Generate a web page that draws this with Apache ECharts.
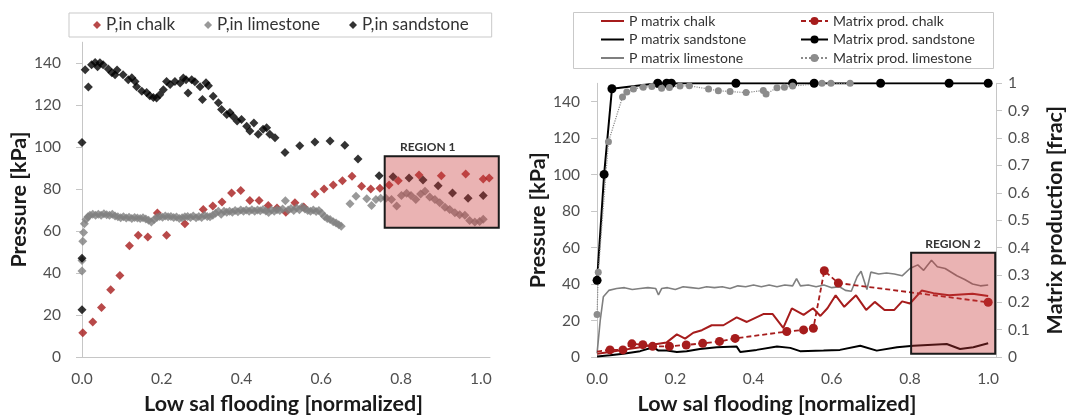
<!DOCTYPE html>
<html>
<head>
<meta charset="utf-8">
<script src="https://cdn.jsdelivr.net/npm/echarts@6/dist/echarts.min.js"></script>
<style>
html, body { margin: 0; padding: 0; background: #fff; }
#main { width: 1069px; height: 420px; }
</style>
</head>
<body>
<div id="main"></div>
<script>
// ---- Inlet pressure during low-salinity flooding (left panel), [x, kPa] ----
const pinChalk = [[0.002,11.5],[0.027,16.7],[0.049,23.6],[0.072,32],[0.095,38.8],[0.119,53],[0.141,58],[0.165,57.2],[0.189,68.6],[0.212,58],[0.258,63.5],[0.304,70.3],[0.328,71.9],[0.351,73.8],[0.375,78.2],[0.398,79.3],[0.421,74.6],[0.444,74.6],[0.467,72.2],[0.489,71],[0.511,69],[0.534,73.5],[0.556,71.5],[0.584,77.7],[0.607,80.1],[0.63,82],[0.653,84],[0.677,86.1],[0.701,81.4],[0.724,80.1],[0.747,80.4],[0.77,82],[0.793,84],[0.845,86.7],[0.901,86.4],[0.962,87.2],[1.006,84.8],[1.021,85.3]];

const pinLimestone = [[0,41],[0,46],[0.002,55.2],[0.004,59.3],[0.006,63.5],[0.01,65.5],[0.015,66.8],[0.02,67.5],[0.027,68],[0.034,67.5],[0.041,68],[0.048,67.6],[0.055,68.2],[0.062,67.8],[0.069,67.5],[0.076,68],[0.083,67.2],[0.09,66.8],[0.097,66.3],[0.104,66.8],[0.111,66.2],[0.118,66.6],[0.125,66],[0.132,66.5],[0.139,66.2],[0.146,66],[0.153,66.4],[0.16,65.8],[0.167,65.2],[0.174,64.3],[0.181,65.5],[0.188,66.5],[0.195,67],[0.202,66.6],[0.209,67.2],[0.216,66.8],[0.223,67],[0.23,66.5],[0.237,66.7],[0.244,66],[0.251,66.4],[0.258,66.8],[0.265,67],[0.272,66.5],[0.279,67.2],[0.286,66.4],[0.293,67],[0.3,66.5],[0.307,67.5],[0.314,67],[0.321,66.8],[0.328,67.5],[0.335,68.5],[0.342,69.5],[0.349,68],[0.356,69.5],[0.363,69],[0.37,69.5],[0.377,69],[0.384,69.8],[0.391,69.2],[0.398,70],[0.405,69.5],[0.412,70],[0.419,69.4],[0.426,70.2],[0.433,69.5],[0.44,70],[0.447,69.7],[0.454,70.3],[0.461,69.6],[0.468,68.8],[0.475,70],[0.482,69.5],[0.489,70.2],[0.496,69.8],[0.503,70.5],[0.51,74.5],[0.517,70],[0.524,70.8],[0.531,69.8],[0.538,71],[0.545,70.2],[0.552,71.5],[0.559,70.5],[0.566,69.8],[0.573,69.5],[0.58,70],[0.587,69.3],[0.594,69.8],[0.601,68.5],[0.608,67],[0.615,66],[0.622,65.5],[0.63,64.5],[0.637,63.8],[0.644,63],[0.65,62.3],[0.672,73],[0.687,76.6],[0.714,75.4],[0.726,72.2],[0.737,75],[0.749,75.7],[0.762,75.7],[0.776,75],[0.789,71.9],[0.801,76.9],[0.814,78],[0.825,76.9],[0.837,75],[0.849,77.7],[0.86,79],[0.872,76.2],[0.885,75],[0.897,73.5],[0.91,71.4],[0.922,70.3],[0.935,68.7],[0.947,67.8],[0.96,67.5],[0.972,65.1],[0.985,64.3],[0.997,64.6],[1.006,65.6]];

const pinSandstone = [[0,102.2],[0,47],[0,22.5],[0.008,136.9],[0.016,128.7],[0.024,139.2],[0.033,140.3],[0.039,138.3],[0.045,140.2],[0.053,139.2],[0.066,137.2],[0.075,135.4],[0.083,134.5],[0.088,136.8],[0.103,134.5],[0.116,132.1],[0.125,133.1],[0.133,131.3],[0.137,128.8],[0.15,126.6],[0.162,126],[0.17,124.5],[0.179,123.7],[0.187,123.4],[0.195,125],[0.204,127.4],[0.212,131.3],[0.221,129.8],[0.233,131.3],[0.246,130.5],[0.254,132.9],[0.261,132.1],[0.266,125.8],[0.275,132.1],[0.283,131.2],[0.296,128.8],[0.302,122.7],[0.311,130.7],[0.317,129.3],[0.329,124.2],[0.342,121.1],[0.35,117.9],[0.363,115.6],[0.371,116.5],[0.379,114.6],[0.389,112.4],[0.4,113.2],[0.413,110],[0.421,107.7],[0.431,111.5],[0.442,106.1],[0.454,108.5],[0.463,109.2],[0.471,106.1],[0.484,104.5],[0.509,97.4],[0.546,100.6],[0.584,102.5],[0.622,102.9],[0.659,100.9],[0.692,94.3],[0.745,86.4],[0.78,85.9],[0.82,85.3],[0.855,84.3],[0.893,81.6],[0.929,78.2],[0.968,75.7],[1.006,76.9]];

// ---- Matrix pressure (kPa, left axis) and matrix production (fraction, right axis), right panel ----
const pMatrixChalk = [[0,1.8],[0.033,2.7],[0.067,3.9],[0.11,5.3],[0.153,7.1],[0.178,8],[0.204,12.4],[0.225,10.1],[0.246,13.3],[0.268,14.7],[0.293,17.4],[0.323,17.4],[0.357,21.7],[0.383,19.2],[0.425,23.5],[0.449,23.5],[0.476,16],[0.498,26.7],[0.528,23.1],[0.552,26.7],[0.571,22.5],[0.589,26.7],[0.61,33.8],[0.632,27.5],[0.662,33.8],[0.688,25.8],[0.71,30.2],[0.735,25.8],[0.76,25.8],[0.78,30.5],[0.8,29.3],[0.83,36.4],[0.86,35],[0.9,33.8],[0.96,34.7],[1.0,33.4]];

const pMatrixSandstone = [[0,0.3],[0.033,0.9],[0.067,1.8],[0.11,3.2],[0.144,5.3],[0.157,3.5],[0.178,3.5],[0.204,2.7],[0.229,3.2],[0.263,4.4],[0.306,5.3],[0.357,5.7],[0.366,2.7],[0.408,3.9],[0.46,5.7],[0.494,5],[0.519,3.2],[0.579,3.5],[0.621,3.9],[0.673,6.2],[0.715,3.5],[0.767,5.3],[0.809,6.2],[0.894,7.1],[0.928,4.4],[0.962,5.3],[1.0,7.5]];

const pMatrixLimestone = [[0,2],[0.008,20],[0.016,33],[0.03,36.5],[0.05,37.5],[0.07,38],[0.09,37],[0.11,37.5],[0.13,38],[0.15,37.5],[0.157,34],[0.165,37.5],[0.18,38],[0.2,37],[0.22,38.5],[0.24,38],[0.26,37.5],[0.28,38.5],[0.3,38],[0.32,38.5],[0.34,37.5],[0.36,39],[0.38,38.5],[0.4,39.5],[0.42,38.5],[0.44,39.5],[0.46,38.5],[0.48,39.5],[0.5,39],[0.51,43],[0.52,39],[0.54,39.5],[0.56,38.5],[0.58,39.5],[0.6,38],[0.62,38.5],[0.635,36.5],[0.65,36],[0.665,44],[0.675,47],[0.69,37],[0.7,46.5],[0.72,45.5],[0.74,46],[0.76,45.5],[0.78,44.5],[0.8,48.5],[0.82,50.5],[0.835,47.5],[0.855,53],[0.87,49.5],[0.89,48.5],[0.92,44.5],[0.94,42.5],[0.96,40],[0.98,39],[1.0,39.5]];

const prodChalk = [[0,0.02],[0.033,0.026],[0.066,0.026],[0.089,0.048],[0.117,0.045],[0.142,0.039],[0.185,0.039],[0.228,0.044],[0.27,0.05],[0.313,0.057],[0.353,0.068],[0.485,0.093],[0.528,0.099],[0.553,0.105],[0.581,0.315],[0.617,0.27],[1.0,0.2]];

const prodSandstone = [[0,0.28],[0.018,0.667],[0.038,0.98],[0.155,1],[0.178,1],[0.19,1],[0.355,1],[0.5,1],[0.555,1],[0.725,1],[0.9,1],[1.0,1]];

const prodLimestone = [[0,0.155],[0.003,0.31],[0.029,0.786],[0.065,0.95],[0.076,0.968],[0.093,0.979],[0.118,0.986],[0.14,0.988],[0.165,0.982],[0.185,0.985],[0.212,0.99],[0.236,0.991],[0.285,0.979],[0.31,0.973],[0.34,0.97],[0.381,0.966],[0.425,0.974],[0.432,0.961],[0.46,0.984],[0.479,0.986],[0.5,0.99],[0.575,1],[0.598,1],[0.647,1]];

// ---- Tick labels ----
const xTicks = [0, 0.2, 0.4, 0.6, 0.8, 1.0];
const pressureTicks = [0, 20, 40, 60, 80, 100, 120, 140];
const fracTicks = [0, 0.1, 0.2, 0.3, 0.4, 0.5, 0.6, 0.7, 0.8, 0.9, 1];

// ---- Highlighted regions (data units) ----
const region1 = { name: 'REGION 1', x: [0.759, 1.045], y: [61.6, 95.7], labelX: 0.867 };
const region2 = { name: 'REGION 2', x: [0.803, 1.018], y: [1.8, 57.2], labelX: 0.91 };

const FONT = 'Lato, "Liberation Sans", sans-serif';
const RED = '#a61c1c';
const GREY = '#7f7f7f';
const AXIS_GREY = '#c6c6c6';
const LABEL = '#505050';
const TITLE = '#1a1a1a';
const TITLE_SIZE = 21.5;

const chart = echarts.init(document.getElementById('main'));

function xAxisCfg(gridIndex, min, max, namePad) {
  return {
    type: 'value', gridIndex, min, max,
    name: 'Low sal flooding [normalized]', nameLocation: 'middle', nameGap: 36,
    nameTextStyle: { fontFamily: FONT, fontSize: TITLE_SIZE, fontWeight: 'bold', color: TITLE, padding: namePad },
    axisLine: { lineStyle: { color: AXIS_GREY, width: 1 } },
    axisTick: { show: false },
    splitLine: { show: false },
    axisLabel: { customValues: xTicks, formatter: v => v.toFixed(1), margin: 14,
      fontFamily: FONT, fontSize: 15.5, color: LABEL }
  };
}

function yAxisCfg(gridIndex, opts) {
  return Object.assign({
    type: 'value', gridIndex, min: 0,
    nameLocation: 'middle', nameRotate: 90,
    nameTextStyle: { fontFamily: FONT, fontSize: TITLE_SIZE, fontWeight: 'bold', color: TITLE },
    axisLine: { show: true, lineStyle: { color: AXIS_GREY, width: 1 } },
    splitLine: { show: false }
  }, opts);
}

const scatterBase = { type: 'scatter', symbol: 'diamond', symbolSize: 9, clip: false,
  xAxisIndex: 0, yAxisIndex: 0 };

// Legend entries for the pressure lines show only the line sample.
const lineOnly = name => ({ name, itemStyle: { opacity: 0 } });

const option = {
  animation: false,
  backgroundColor: '#fff',
  textStyle: { fontFamily: FONT },
  grid: [
    { left: 77, right: 579, top: 42.2, bottom: 60.7 },
    { left: 592, right: 73, top: 83.3, bottom: 56.7 }
  ],
  legend: [
    {
      data: ['P,in chalk', 'P,in limestone', 'P,in sandstone'],
      left: 69, top: 13, orient: 'horizontal',
      padding: [3, 23, 3, 24], itemGap: 29, itemWidth: 8, itemHeight: 8,
      borderColor: '#c9c9c9', borderWidth: 1,
      textStyle: { fontFamily: FONT, fontSize: 17, color: '#333', lineHeight: 18 }
    },
    {
      data: ['P matrix chalk', 'P matrix sandstone', 'P matrix limestone'].map(lineOnly),
      left: 600, top: 14, orient: 'vertical', padding: 0,
      itemGap: 4.5, itemWidth: 23, itemHeight: 10,
      textStyle: { fontFamily: FONT, fontSize: 14, color: '#333', lineHeight: 14 }
    },
    {
      data: ['Matrix prod. chalk', 'Matrix prod. sandstone', 'Matrix prod. limestone'],
      left: 800, top: 14, orient: 'vertical', padding: 0,
      itemGap: 4.5, itemWidth: 27, itemHeight: 10,
      textStyle: { fontFamily: FONT, fontSize: 14, color: '#333', lineHeight: 14 }
    }
  ],
  xAxis: [
    xAxisCfg(0, -0.0125, 1.023, [0, 0, 0, 0]),
    xAxisCfg(1, -0.013, 1.02, [0, 34, 0, 0])
  ],
  yAxis: [
    yAxisCfg(0, {
      max: 150, name: 'Pressure [kPa]', nameGap: 45,
      axisTick: { show: true, length: 6, customValues: pressureTicks, lineStyle: { color: AXIS_GREY } },
      axisLabel: { customValues: pressureTicks, margin: 16, fontFamily: FONT, fontSize: 15.5, color: LABEL }
    }),
    yAxisCfg(1, {
      max: 150, name: 'Pressure [kPa]', nameGap: 34,
      axisTick: { show: true, length: 6, customValues: pressureTicks, lineStyle: { color: AXIS_GREY } },
      axisLabel: { customValues: pressureTicks, margin: 12, fontFamily: FONT, fontSize: 15.5, color: LABEL }
    }),
    yAxisCfg(1, {
      max: 1, position: 'right', name: 'Matrix production [frac]', nameGap: 48,
      axisTick: { show: true, length: 6, customValues: fracTicks, lineStyle: { color: AXIS_GREY } },
      axisLabel: { customValues: fracTicks, margin: 12, fontFamily: FONT, fontSize: 15.5, color: LABEL }
    })
  ],
  series: [
    Object.assign({}, scatterBase, { name: 'P,in chalk', data: pinChalk, itemStyle: { color: RED } }),
    Object.assign({}, scatterBase, { name: 'P,in limestone', data: pinLimestone, itemStyle: { color: GREY } }),
    Object.assign({}, scatterBase, { name: 'P,in sandstone', data: pinSandstone, itemStyle: { color: '#000' } }),

    { name: 'P matrix chalk', type: 'line', xAxisIndex: 1, yAxisIndex: 1, data: pMatrixChalk,
      symbol: 'none', lineStyle: { color: RED, width: 2 }, itemStyle: { color: RED } },
    { name: 'P matrix sandstone', type: 'line', xAxisIndex: 1, yAxisIndex: 1, data: pMatrixSandstone,
      symbol: 'none', lineStyle: { color: '#000', width: 2 }, itemStyle: { color: '#000' } },
    { name: 'P matrix limestone', type: 'line', xAxisIndex: 1, yAxisIndex: 1, data: pMatrixLimestone,
      symbol: 'none', lineStyle: { color: GREY, width: 1.6 }, itemStyle: { color: GREY } },

    { name: 'Matrix prod. chalk', type: 'line', xAxisIndex: 1, yAxisIndex: 2, data: prodChalk,
      symbol: 'circle', symbolSize: (v, p) => (p.dataIndex === 0 ? 0 : 9), showAllSymbol: true,
      lineStyle: { color: RED, width: 1.8, type: [5, 3] }, itemStyle: { color: RED } },
    { name: 'Matrix prod. sandstone', type: 'line', xAxisIndex: 1, yAxisIndex: 2, data: prodSandstone,
      symbol: 'circle', symbolSize: 9, showAllSymbol: true,
      lineStyle: { color: '#000', width: 2 }, itemStyle: { color: '#000' } },
    { name: 'Matrix prod. limestone', type: 'line', xAxisIndex: 1, yAxisIndex: 2, data: prodLimestone,
      symbol: 'circle', symbolSize: 7, showAllSymbol: true,
      lineStyle: { color: '#8a8a8a', width: 1.2, type: 'dotted' }, itemStyle: { color: '#8c8c8c' } }
  ]
};

chart.setOption(option);

// Shaded region boxes with their captions, placed through the axes' own scales.
function regionGraphics(region, finder) {
  const p0 = chart.convertToPixel(finder, [region.x[0], region.y[1]]);
  const p1 = chart.convertToPixel(finder, [region.x[1], region.y[0]]);
  const lp = chart.convertToPixel(finder, [region.labelX, region.y[1]]);
  return [
    { type: 'rect', z: 50,
      shape: { x: p0[0], y: p0[1], width: p1[0] - p0[0], height: p1[1] - p0[1] },
      style: { fill: 'rgba(200,55,55,0.38)', stroke: '#1a1a1a', lineWidth: 2 } },
    { type: 'text', z: 50, x: lp[0], y: p0[1] - 9,
      style: { text: region.name, fontFamily: FONT, fontSize: 12, fontWeight: 'bold',
        fill: '#333', align: 'center', verticalAlign: 'middle' } }
  ];
}

const g = [].concat(
  regionGraphics(region1, { xAxisIndex: 0, yAxisIndex: 0 }),
  regionGraphics(region2, { xAxisIndex: 1, yAxisIndex: 1 }),
  [{ type: 'rect', z: 1, shape: { x: 573.5, y: 12.5, width: 420, height: 56 },
     style: { fill: 'none', stroke: '#c9c9c9', lineWidth: 1 } }]
);
chart.setOption({ graphic: g });
</script>
</body>
</html>
